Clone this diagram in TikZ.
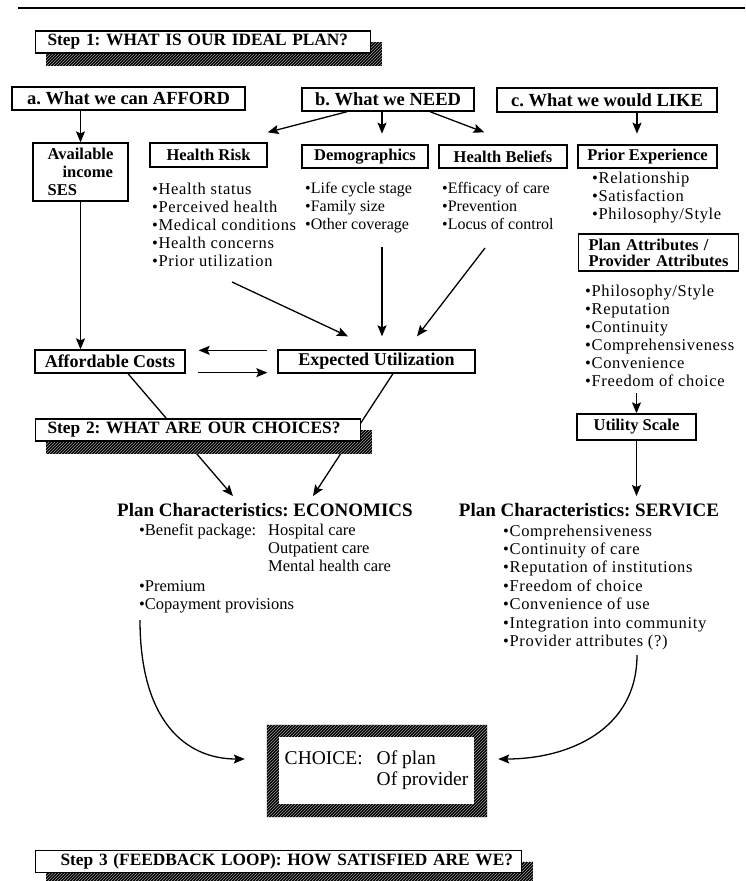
\documentclass[tikz,border=0pt]{standalone}
\usepackage{fontspec}
\setmainfont{Liberation Serif}
\newfontfamily\spacedfont[LetterSpace=4]{Liberation Serif}
\usetikzlibrary{arrows.meta, patterns}
\pgfdeclarelayer{lines}
\pgfdeclarelayer{shade}
\pgfsetlayers{lines,shade,main}

\newcommand\stepfont{\bfseries\fontsize{17.3}{20}\selectfont}
\newcommand\hdfont{\bfseries\fontsize{18.5}{20}\selectfont}
\newcommand\boxfont{\bfseries\fontsize{16.5}{18}\selectfont}
\newcommand\itemfont{\fontsize{16}{18}\selectfont}
\newcommand\wideitemfont{\spacedfont\fontsize{16.5}{18}\selectfont}
\newcommand\planfont{\bfseries\fontsize{19}{20}\selectfont}
\newcommand\choicefont{\fontsize{19.5}{21}\selectfont}
% hatched drop shadow under a step banner
\newcommand\bannershade[1]{%
  \fill[hatch] ([xshift=11pt,yshift=-12pt]#1.north west)
    rectangle ([xshift=11pt,yshift=-12pt]#1.south east);}

\tikzset{
  stepbox/.style={
    draw, line width=1.2pt, fill=white, anchor=west,
    minimum height=22pt, inner xsep=12pt, inner ysep=0pt,
    text width=#1, align=left, font=\stepfont
  },
  headbox/.style={
    draw, line width=1.4pt, fill=white, minimum height=23pt,
    inner sep=1pt, font=\hdfont
  },
  subbox/.style={
    draw, line width=1.3pt, fill=white, minimum height=23pt,
    inner sep=1pt, font=\boxfont
  },
  items/.style={anchor=north west, inner sep=0pt, align=left, font=\itemfont},
  wideitems/.style={items, font=\wideitemfont},
  plan/.style={inner sep=0pt, font=\planfont},
  hatch/.style={fill=black, postaction={pattern=north east lines, pattern color=gray!75}},
  arr/.style={-{Stealth[length=11pt,width=9pt,inset=2pt]}, line width=1.3pt},
}

\begin{document}
\frenchspacing
\begin{tikzpicture}[x=1pt, y=-1pt]
  \useasboundingbox (0,0) rectangle (745,881);
  \draw[line width=1.5pt] (18,8) -- (745,8);

  % step banners
  \node[stepbox=311pt, minimum width=335pt] (step1) at (35,42)
    {\mbox{Step 1: WHAT IS OUR IDEAL PLAN?}};
  \node[stepbox=301pt, minimum width=325pt] (step2) at (35,430)
    {\mbox{Step 2: WHAT ARE OUR CHOICES?}};
  \node[stepbox=462pt, minimum width=486pt] (step3) at (35,861.5)
    {\mbox{\hspace*{13pt}Step 3 (FEEDBACK LOOP): HOW SATISFIED ARE WE?}};

  % a / b / c
  \node[headbox, minimum width=233pt] (afford) at (128.5,98.5) {a. What we can AFFORD};
  \node[headbox, minimum width=172pt] (need) at (388,99.5) {b. What we NEED};
  \node[headbox, minimum width=220pt, minimum height=24pt] (like) at (607,100) {c. What we would LIKE};

  \node[subbox, minimum width=95pt, minimum height=58pt, align=left] (avail) at (80.5,172)
    {Available\\\hspace*{15pt}income\\SES};
  \node[subbox, minimum width=117pt, minimum height=24pt] (risk) at (208.5,155) {Health Risk};
  \node[subbox, minimum width=126pt] (demo) at (365,156.5) {Demographics};
  \node[subbox, minimum width=128pt] (beliefs) at (503,156.5) {Health Beliefs};
  \node[subbox, minimum width=139pt] (prior) at (647.5,156.5) {Prior Experience};

  \node[wideitems] (risklist) at (152,182.5)
    {\textbullet Health status\\\textbullet Perceived health\\\textbullet Medical conditions\\
     \textbullet Health concerns\\\textbullet Prior utilization};
  \node[items] (demolist) at (305,182.5)
    {\textbullet Life cycle stage\\\textbullet Family size\\\textbullet Other coverage};
  \node[items] (belieflist) at (442,182.5)
    {\textbullet Efficacy of care\\\textbullet Prevention\\\textbullet Locus of control};
  \node[wideitems] (priorlist) at (592,171.5)
    {\textbullet Relationship\\\textbullet Satisfaction\\\textbullet Philosophy/Style};

  \node[subbox, minimum width=160pt, minimum height=37pt, inner xsep=10pt, inner ysep=0pt,
    text width=140pt, align=left, font=\bfseries\fontsize{16.5}{16}\selectfont] (attrib) at (658.5,252.5)
    {Plan Attributes /\\Provider Attributes};
  \node[wideitems] (attrlist) at (585,284.5)
    {\textbullet Philosophy/Style\\\textbullet Reputation\\\textbullet Continuity\\
     \textbullet Comprehensiveness\\\textbullet Convenience\\\textbullet Freedom of choice};
  \node[subbox, minimum width=119pt, minimum height=26pt] (utility) at (636.5,427) {Utility Scale};

  \node[subbox, minimum width=150pt, font=\bfseries\fontsize{18}{20}\selectfont] (affcost) at (110,361.5)
    {Affordable Costs};
  \node[subbox, minimum width=197pt, font=\bfseries\fontsize{18}{20}\selectfont] (expect) at (376.5,361.5)
    {Expected Utilization};

  % plan characteristics
  \node[plan] (econ) at (265,510) {Plan Characteristics: ECONOMICS};
  \node[items, font=\fontsize{16.5}{18}\selectfont] (econlist) at (139,523) {%
    \begin{tabular}{@{}p{129pt}@{}l@{}}
      \textbullet Benefit package: & Hospital care\\
      & Outpatient care\\
      & Mental health care\\[2pt]
      \multicolumn{2}{@{}l@{}}{\textbullet Premium}\\
      \multicolumn{2}{@{}l@{}}{\textbullet Copayment provisions}
    \end{tabular}};
  \node[plan] (service) at (589,510) {Plan Characteristics: SERVICE};
  \node[wideitems, font=\spacedfont\fontsize{16.5}{18.4}\selectfont] (servlist) at (503,524.5)
    {\textbullet Comprehensiveness\\\textbullet Continuity of care\\\textbullet Reputation of institutions\\
     \textbullet Freedom of choice\\\textbullet Convenience of use\\\textbullet Integration into community\\
     \textbullet Provider attributes (?)};

  \node[fill=white, minimum width=195pt, minimum height=67pt, inner sep=0pt, font=\choicefont] (choice)
    at (376.5,770.5)
    {\begin{tabular}{@{}p{92pt}@{}l@{}}CHOICE: & Of plan\\ & Of provider\end{tabular}};

  \begin{pgfonlayer}{shade}
    \bannershade{step1}
    \bannershade{step2}
    \bannershade{step3}
    \fill[hatch, even odd rule] ([xshift=-12pt,yshift=12pt]choice.north west)
      rectangle ([xshift=13pt,yshift=-13pt]choice.south east)
      (choice.north west) rectangle (choice.south east);
  \end{pgfonlayer}

  \begin{pgfonlayer}{lines}
    \draw[arr] (afford.south -| avail.north) -- (avail.north);
    \draw[arr] (avail.south) -- (avail.south |- affcost.north);
    \draw[arr] ([xshift=-41pt]need.south) -- ([yshift=10pt]risk.north east);
    \draw[arr] ([xshift=-6pt]need.south) -- ++(0,22);
    \draw[arr] ([xshift=42pt]need.south) -- ([xshift=46pt,yshift=12pt]beliefs.north west);
    \draw[arr] ([xshift=30pt]like.south) -- ++(0,21);

    \draw[arr] ([xshift=80pt,yshift=-99.5pt]risklist.north west) -- ([xshift=-28.5pt,yshift=13pt]expect.north);
    \draw[arr] ([xshift=77pt,yshift=-64.5pt]demolist.north west) -- ([xshift=5.5pt,yshift=13pt]expect.north);
    \draw[arr] ([xshift=43pt,yshift=-65.5pt]belieflist.north west) -- ([xshift=40.5pt,yshift=13pt]expect.north);

    \draw[arr] ([xshift=-10pt,yshift=-1pt]expect.north west) -- ([xshift=13pt,yshift=-1pt]affcost.north east);
    \draw[arr] ([xshift=12pt,yshift=1pt]affcost.south east) -- ([xshift=-10pt,yshift=1pt]expect.south west);

    \draw[arr] ([xshift=18pt]affcost.south) -- ([xshift=-32pt,yshift=7pt]econ.north);
    \draw[arr] ([xshift=16.5pt]expect.south) -- ([xshift=48pt,yshift=7pt]econ.north);

    \draw[arr] ([yshift=20pt]utility.north) -- (utility.north);
    \draw[arr] (utility.south) -- ([xshift=47.5pt,yshift=7pt]service.north);

    \draw[arr] ([xshift=1pt,yshift=-97pt]econlist.north west)
      .. controls +(0,100) and +(-60,0) .. ([xshift=-34pt,yshift=11.5pt]choice.west);
    \draw[arr] ([xshift=134pt,yshift=-130.5pt]servlist.north west)
      .. controls +(0,75) and +(70,0) .. ([xshift=24pt,yshift=11.5pt]choice.east);
  \end{pgfonlayer}
\end{tikzpicture}
\end{document}
